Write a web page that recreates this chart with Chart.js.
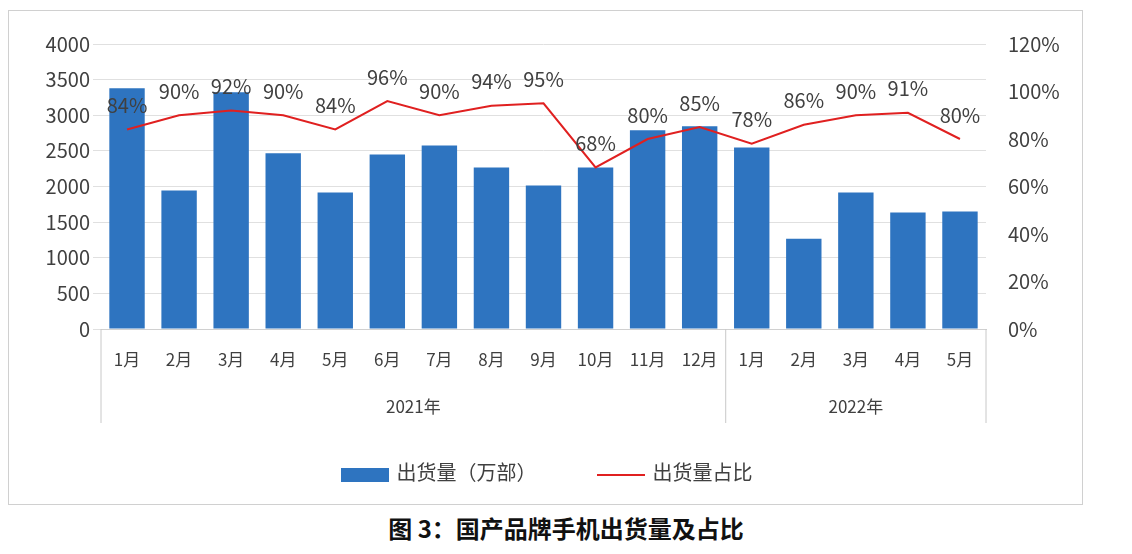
<!DOCTYPE html>
<html><head><meta charset="utf-8">
<script src="https://cdn.jsdelivr.net/npm/chart.js@4"></script>
<style>
body{margin:0;width:1132px;height:554px;background:#fff;position:relative;font-family:"Noto Sans CJK SC","Noto Sans",sans-serif;overflow:hidden}
#box{position:absolute;left:8px;top:10px;width:1075px;height:495px;border:1px solid #d0d0d0;box-sizing:border-box}
#title{position:absolute;left:0;width:1132px;top:510px;text-align:center;font-size:24px;font-weight:bold;color:#111}
#leg{position:absolute;top:446px;left:0;width:1075px;text-align:center;font-size:20px;color:#404040}
.sw{display:inline-block;vertical-align:middle}
</style></head><body>
<div id="box"><canvas id="c" width="1073" height="493"></canvas>
<div id="leg"><span class="sw" style="width:48px;height:14px;background:#2e74c0;margin-right:8px"></span>出货量（万部）<span class="sw" style="width:48px;height:2px;background:#e02020;margin:0 8px 0 60px"></span>出货量占比</div></div>
<div id="title">图 3：国产品牌手机出货量及占比</div>
<script>
const months=["1月","2月","3月","4月","5月","6月","7月","8月","9月","10月","11月","12月","1月","2月","3月","4月","5月"];
const years=[["2021年",0,11],["2022年",12,16]];
const shipments=[3380,1944,3324,2465,1915,2450,2577,2268,2014,2268,2789,2845,2549,1268,1915,1634,1648];
const share=[84,90,92,90,84,96,90,94,95,68,80,85,78,86,90,91,80];
const extra={id:'extra',afterDatasetsDraw(ch){
  const c=ch.ctx,x=ch.scales.x,a=ch.chartArea,m=ch.getDatasetMeta(0);
  c.save();c.font='20px "Noto Sans CJK SC"';c.fillStyle='#404040';c.textAlign='center';c.textBaseline='bottom';
  m.data.forEach((p,i)=>c.fillText(share[i]+'%',p.x,p.y-14));
  const w=(x.getPixelForValue(1)-x.getPixelForValue(0));
  c.strokeStyle='#c8c8c8';c.lineWidth=1;
  const ed=[a.left,x.getPixelForValue(11)+w/2,a.right];
  ed.forEach(e=>{c.beginPath();c.moveTo(e,a.bottom);c.lineTo(e,a.bottom+94);c.stroke();});
  c.font='17px "Noto Sans CJK SC"';c.textBaseline='middle';
  years.forEach(y=>{const cx=(x.getPixelForValue(y[1])+x.getPixelForValue(y[2]))/2;c.fillText(y[0],cx,a.bottom+78);});
  c.restore();}};
new Chart(document.getElementById('c'),{
 data:{labels:months,datasets:[
  {type:'line',data:share,yAxisID:'y1',borderColor:'#e02020',borderWidth:2,pointRadius:0,tension:0,order:0},
  {type:'bar',data:shipments,yAxisID:'y',backgroundColor:'#2e74c0',categoryPercentage:1,barPercentage:0.68,order:1}]},
 options:{responsive:false,animation:false,layout:{padding:{top:33,left:0,right:0}},
  plugins:{legend:{display:false},tooltip:{enabled:false}},
  scales:{
   x:{grid:{display:false},border:{color:'#d0d0d0'},ticks:{color:'#404040',font:{size:17,family:'Noto Sans CJK SC'},maxRotation:0,autoSkip:false,padding:12},afterFit(s){s.height=175}},
   y:{min:0,max:4000,ticks:{stepSize:500,color:'#404040',font:{size:20,family:'Noto Sans CJK SC'},callback:v=>String(v)},grid:{color:'#e0e0e0'},border:{display:false},afterFit(s){s.width=92}},
   y1:{position:'right',min:0,max:120,ticks:{stepSize:20,color:'#404040',font:{size:20,family:'Noto Sans CJK SC'},callback:v=>v+'%',padding:14},grid:{display:false},border:{display:false},afterFit(s){s.width=96}}
  }},plugins:[extra]});
</script></body></html>
